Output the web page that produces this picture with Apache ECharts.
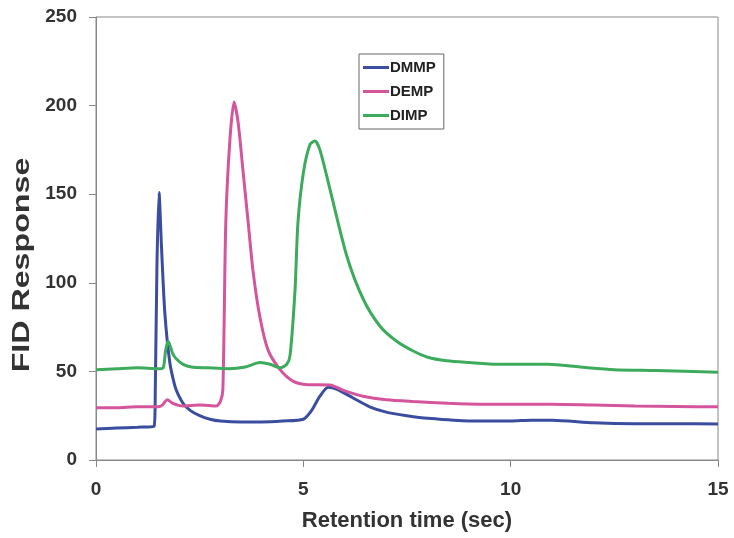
<!DOCTYPE html>
<html>
<head>
<meta charset="utf-8">
<script src="https://cdn.jsdelivr.net/npm/echarts@6/dist/echarts.min.js"></script>
<style>
  html, body { margin: 0; padding: 0; background: #fff; }
  #chart { width: 734px; height: 538px; }
</style>
</head>
<body>
<div id="chart"></div>
<script>
// [retention time (sec), FID response]
var dmmp = [
  [0, 17.5], [0.5, 18], [1, 18.5], [1.4, 19], [1.43, 40], [1.47, 110], [1.52, 151],
  [1.58, 120], [1.66, 83], [1.78, 55], [1.9, 42], [1.98, 37], [2.1, 32], [2.27, 28],
  [2.5, 25], [2.75, 23], [3, 22], [3.5, 21.5], [4, 21.5], [4.5, 22], [5, 23],
  [5.2, 28], [5.4, 36], [5.6, 41], [5.8, 40], [6.2, 35], [6.6, 30], [7, 27],
  [7.5, 25], [8, 23.5], [9, 22], [10, 22], [10.5, 22.5], [11, 22.5], [12, 21],
  [13, 20.5], [14, 20.5], [15, 20.3]
]
var demp = [
  [0, 29.5], [0.5, 29.5], [1, 30], [1.5, 30], [1.6, 31], [1.72, 34], [1.85, 32],
  [2.1, 30.5], [2.5, 31], [2.9, 30.5], [3.0, 33], [3.06, 40], [3.13, 134], [3.23, 181],
  [3.33, 202], [3.43, 190], [3.55, 162], [3.67, 134], [3.79, 106], [3.95, 81],
  [4.15, 62], [4.44, 51], [4.75, 44.5], [5.1, 42.5], [5.64, 42.3], [6, 39],
  [6.44, 36], [7, 34], [7.65, 33], [8.5, 32], [9.26, 31.5], [10, 31.5], [11, 31.5],
  [12, 31], [13, 30.5], [14, 30.2], [15, 30]
]
var dimp = [
  [0, 51], [0.5, 51.5], [1, 52], [1.5, 51.5], [1.62, 52], [1.68, 62], [1.74, 67],
  [1.85, 60], [1.94, 57], [2.1, 54], [2.3, 52.5], [2.7, 52], [3.2, 51.5], [3.6, 52.5],
  [3.95, 55], [4.2, 54], [4.44, 52], [4.6, 54], [4.68, 59], [4.8, 96], [4.87, 134],
  [5.0, 162], [5.16, 178], [5.28, 180], [5.4, 175], [5.64, 153], [6.05, 115],
  [6.44, 91], [6.85, 75.5], [7.25, 67], [7.65, 61.5], [8.0, 58], [8.46, 56], [9, 55],
  [9.67, 54], [10.3, 54], [10.9, 54], [11.67, 52.5], [12.5, 51], [13.5, 50.5], [15, 49.5]
]
var seriesNames = ['DMMP', 'DEMP', 'DIMP']
var seriesColors = ['#3a4d9f', '#d4559b', '#3dab5c']

var font = 'Arial, "Liberation Sans", sans-serif'
var chart = echarts.init(document.getElementById('chart'))

function makeSeries(i, data) {
  return {
    name: seriesNames[i],
    type: 'line',
    data: data,
    symbol: 'none',
    smooth: 0.25,
    lineStyle: { width: 3, color: seriesColors[i] },
    itemStyle: { color: seriesColors[i] }
  }
}

chart.setOption({
  backgroundColor: '#fff',
  animation: false,
  grid: {
    left: 96,
    right: 16,
    top: 17,
    bottom: 78,
    show: true,
    borderColor: '#888',
    borderWidth: 1
  },
  legend: {
    orient: 'vertical',
    left: 359,
    top: 54,
    padding: [6, 8, 6, 4],
    itemGap: 9,
    itemWidth: 26,
    itemHeight: 3,
    icon: 'rect',
    borderColor: '#666',
    borderWidth: 1,
    backgroundColor: '#fff',
    textStyle: { fontFamily: font, fontWeight: 'bold', fontSize: 15, color: '#222', padding: [0, 0, 0, -4] },
    data: seriesNames
  },
  // y title drawn as text so it can be stretched along its length like the original
  graphic: [{
    type: 'text',
    x: 23,
    y: 265,
    rotation: Math.PI / 2,
    scaleX: 1.4,
    style: {
      text: 'FID Response',
      font: 'bold 23px Arial, "Liberation Sans", sans-serif',
      fill: '#333',
      align: 'center',
      verticalAlign: 'middle',
      textAlign: 'center',
      textVerticalAlign: 'middle'
    }
  }],
  xAxis: {
    type: 'value',
    min: 0,
    max: 15,
    interval: 5,
    name: 'Retention time (sec)',
    nameLocation: 'middle',
    nameGap: 50,
    nameTextStyle: { fontFamily: font, fontWeight: 'bold', fontSize: 22, color: '#333' },
    axisLine: { show: true, lineStyle: { color: '#888' } },
    axisTick: { show: true, inside: false, length: 7, lineStyle: { color: '#888' } },
    axisLabel: { fontFamily: font, fontWeight: 'bold', fontSize: 19, color: '#333', margin: 20 },
    splitLine: { show: false }
  },
  yAxis: {
    type: 'value',
    min: 0,
    max: 250,
    interval: 50,
    axisLine: { show: true, lineStyle: { color: '#888' } },
    axisTick: { show: true, inside: false, length: 7, lineStyle: { color: '#888' } },
    axisLabel: { fontFamily: font, fontWeight: 'bold', fontSize: 19, color: '#333', margin: 19 },
    splitLine: { show: false }
  },
  series: [
    makeSeries(0, dmmp),
    makeSeries(1, demp),
    makeSeries(2, dimp)
  ]
})
</script>
</body>
</html>
